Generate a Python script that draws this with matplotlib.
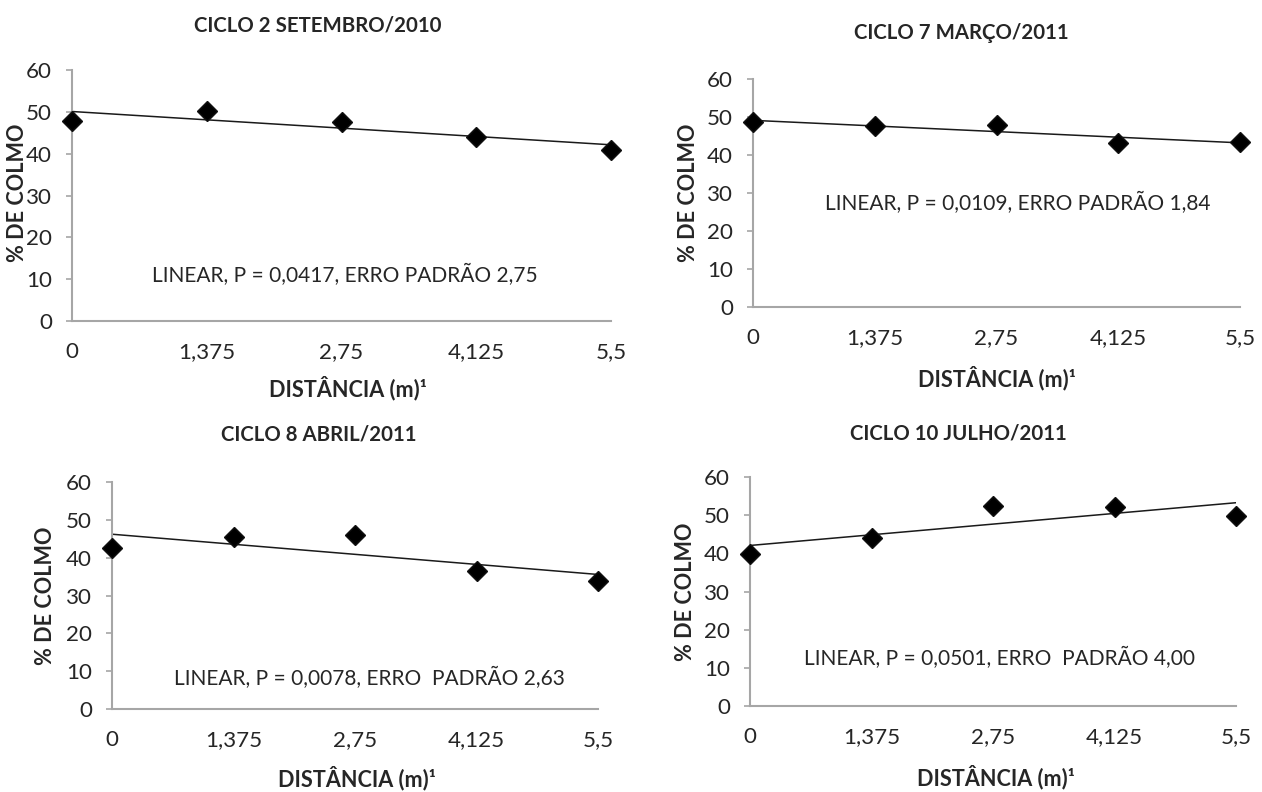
import numpy as np
import matplotlib
matplotlib.use('Agg')
import matplotlib.pyplot as plt

plt.rcParams['font.family'] = ['Lato', 'DejaVu Sans']

W, H = 1262, 792

# distance (m) and % de colmo for each cycle
distancia = [0, 1.375, 2.75, 4.125, 5.5]
dist_labels = ['0', '1,375', '2,75', '4,125', '5,5']
y_ticks = [0, 10, 20, 30, 40, 50, 60]

titles = ['CICLO 2 SETEMBRO/2010', 'CICLO 7 MARÇO/2011',
          'CICLO 8 ABRIL/2011', 'CICLO 10 JULHO/2011']
notas = ['LINEAR, P = 0,0417, ERRO PADRÃO 2,75',
         'LINEAR, P = 0,0109, ERRO PADRÃO 1,84',
         'LINEAR, P = 0,0078, ERRO  PADRÃO 2,63',
         'LINEAR, P = 0,0501, ERRO  PADRÃO 4,00']

colmo_set2010 = [47.8, 50.2, 47.5, 44.1, 40.9]
colmo_mar2011 = [48.6, 47.7, 47.9, 43.1, 43.5]
colmo_abr2011 = [42.6, 45.5, 46.0, 36.5, 33.8]
colmo_jul2011 = [39.8, 44.1, 52.5, 52.1, 49.8]
series = [colmo_set2010, colmo_mar2011, colmo_abr2011, colmo_jul2011]

# layout in pixels: axes box (left, right, top, bottom) and text centres
boxes = [(72, 611, 70, 321), (753, 1240, 79, 307),
         (112, 598, 482, 709), (750, 1236, 477, 706)]
title_pos = [(318, 25), (961, 33), (319, 435), (958, 433)]
note_pos = [(345, 275), (1018, 203), (369, 678), (999, 658)]
ylab_pos = [(18, 193), (688, 193), (45, 596), (686, 592)]
xlab_pos = [(348, 388), (997, 378), (357, 778), (996, 777)]

axis_grey = '#a6a6a6'
txt = '#262626'

def fx(x):
    return x / W

def fy(y):
    return 1 - y / H

fig = plt.figure(figsize=(W / 100, H / 100), dpi=100)
renderer = fig.canvas.get_renderer()

# pick font sizes so the texts take the width they take in the reference
def fit_size(s, target_px, **kw):
    t = fig.text(0, 0, s, fontsize=10, **kw)
    w = t.get_window_extent(renderer).width
    t.remove()
    return 10 * target_px / w

fs_title = fit_size(titles[0], 248, fontweight='bold')
fs_note = fit_size(notas[0], 382)
fs_xlab = fit_size('DISTÂNCIA (m)¹', 158, fontweight='bold')
fs_ylab = fit_size('% DE COLMO', 138, fontweight='bold')
fs_tick = fit_size('60', 26)

for i in range(4):
    l, r, t, b = boxes[i]
    ax = fig.add_axes([fx(l), fy(b), (r - l) / W, (b - t) / H])
    y = np.array(series[i])
    ax.plot(distancia, y, linestyle='none', marker='D', markersize=10.5,
            color='black', markeredgecolor='#111111', clip_on=False, zorder=3)
    # linear trend line
    coef = np.polyfit(distancia, y, 1)
    xs = np.array([distancia[0], distancia[-1]])
    ax.plot(xs, np.polyval(coef, xs), color='#1a1a1a', linewidth=1.1, zorder=2)

    ax.set_xlim(0, 5.5)
    ax.set_ylim(0, 60)
    ax.set_yticks(y_ticks)
    ax.set_xticks(distancia)
    ax.set_xticklabels(dist_labels)
    for s in ['top', 'right']:
        ax.spines[s].set_visible(False)
    for s in ['left', 'bottom']:
        ax.spines[s].set_color(axis_grey)
        ax.spines[s].set_linewidth(1.5)
    ax.tick_params(axis='y', length=4.5, width=1.2, color=axis_grey,
                   labelsize=fs_tick, labelcolor=txt, pad=10)
    ax.tick_params(axis='x', length=0, labelsize=fs_tick, labelcolor=txt, pad=15)

    fig.text(fx(title_pos[i][0]), fy(title_pos[i][1]), titles[i], ha='center',
             va='center', fontsize=fs_title, fontweight='bold', color=txt)
    fig.text(fx(note_pos[i][0]), fy(note_pos[i][1]), notas[i], ha='center',
             va='center', fontsize=fs_note, color=txt)
    fig.text(fx(ylab_pos[i][0]), fy(ylab_pos[i][1]), '% DE COLMO', ha='center',
             va='center', rotation=90, fontsize=fs_ylab, fontweight='bold', color=txt)
    fig.text(fx(xlab_pos[i][0]), fy(xlab_pos[i][1]), 'DISTÂNCIA (m)¹', ha='center',
             va='center', fontsize=fs_xlab, fontweight='bold', color=txt)

fig.savefig('out.png', dpi=100)
